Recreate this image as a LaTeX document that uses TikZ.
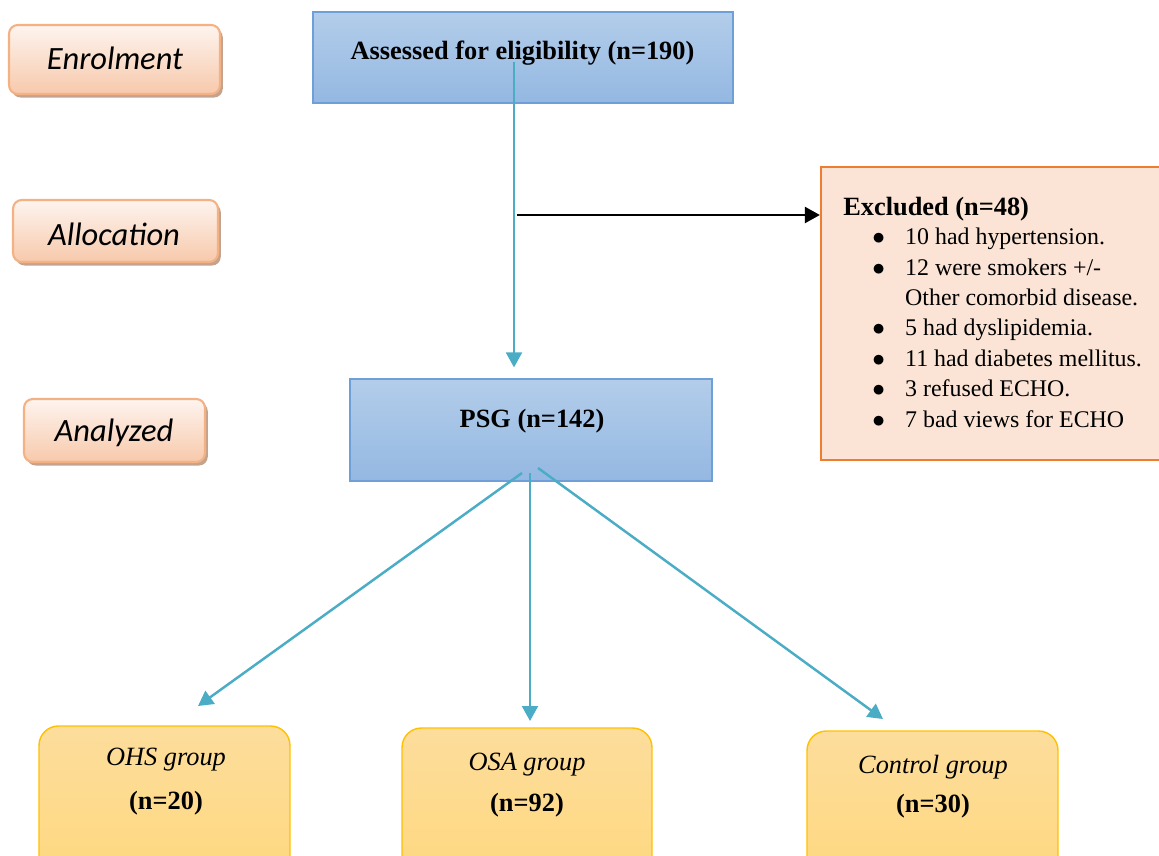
\documentclass[tikz,border=0pt]{standalone}
\usepackage{fontspec}
\setmainfont{Liberation Serif}
\newfontfamily\calibri{Carlito}
\usepackage{xcolor}
\usepackage{tikz}
\usetikzlibrary{arrows.meta,shadows}

\definecolor{peachtop}{HTML}{FEF4EF}
\definecolor{peachbot}{HTML}{F7C9AB}
\definecolor{peachline}{HTML}{F4B183}
\definecolor{shadowtan}{HTML}{C4A38E}
\definecolor{bluetop}{HTML}{B3CDEA}
\definecolor{bluebot}{HTML}{94B8E2}
\definecolor{blueline}{HTML}{6F9FD8}
\definecolor{exclfill}{HTML}{FBE4D5}
\definecolor{exclline}{HTML}{ED7D31}
\definecolor{goldtop}{HTML}{FDDD9C}
\definecolor{goldbot}{HTML}{FED77B}
\definecolor{goldline}{HTML}{FFC000}
\definecolor{arrowblue}{HTML}{4BACC6}

\tikzset{
  stage/.style={rectangle, rounded corners=5pt, draw=peachline, line width=1.2pt,
    top color=peachtop, bottom color=peachbot,
    drop shadow={shadow xshift=1.6pt, shadow yshift=-2pt, fill=shadowtan, opacity=1}},
  stagetxt/.style={font=\calibri\itshape\fontsize{18.5}{22}\selectfont},
  stepbox/.style={rectangle, draw=blueline, line width=0.8pt,
    top color=bluetop, bottom color=bluebot},
  groupbox/.style={rectangle, rounded corners=11pt, draw=goldline, line width=0.8pt,
    top color=goldtop, bottom color=goldbot},
  bold/.style={font=\fontsize{15}{18}\selectfont\bfseries},
  ital/.style={font=\fontsize{15}{18}\selectfont\itshape},
  flow/.style={draw=arrowblue, line width=1.4pt, -{Triangle[length=8.5pt,width=9pt]}},
  exclarrow/.style={draw=black, line width=1.5pt, -{Triangle[length=8.5pt,width=9pt]}}
}

\begin{document}
\begin{tikzpicture}[x=0.02cm, y=-0.02cm]
  \useasboundingbox (0,0) rectangle (1159,855);
  \clip (0,0) rectangle (1159,855);
  % stages on the left
  \node[stage, minimum width=4.22cm, minimum height=1.38cm] (enrol) at (114.5,59.5) {};
  \node[stagetxt] (enroltxt) at (115,58) {Enrolment};
  \node[stage, minimum width=4.1cm, minimum height=1.24cm] (alloc) at (115.5,231) {};
  \node[stagetxt] (alloctxt) at (114,234.5) {Allocation};
  \node[stage, minimum width=3.62cm, minimum height=1.26cm] (anal) at (114.5,430.5) {};
  \node[stagetxt] (analtxt) at (114,433) {Analyzed};
  % main boxes
  \node[stepbox, minimum width=8.4cm, minimum height=1.82cm] (assess) at (523,57.5) {};
  \node[bold] (assesstxt) at (522.5,53) {Assessed for eligibility (n=190)};
  \node[stepbox, minimum width=7.24cm, minimum height=2.04cm] (psg) at (531,430) {};
  \node[bold] (psgtxt) at (532,421) {PSG (n=142)};
  % excluded
  \node[rectangle, draw=exclline, fill=exclfill, line width=1.3pt,
        minimum width=7.08cm, minimum height=5.86cm] (excl) at (998,313.5) {};
  \node[bold, anchor=base west, inner sep=0pt] (exclhead) at (843,215) {Excluded (n=48)};
  \node[anchor=north west, inner sep=0pt, font=\fontsize{13.6}{17.3}\selectfont] (excllist) at (872,223) {%
    \begin{tabular}{@{}l@{\hspace{11.5pt}}l@{}}
      $\bullet$ & 10 had hypertension.\\
      $\bullet$ & 12 were smokers +/-\\
                & Other comorbid disease.\\
      $\bullet$ & 5 had dyslipidemia.\\
      $\bullet$ & 11 had diabetes mellitus.\\
      $\bullet$ & 3 refused ECHO.\\
      $\bullet$ & 7 bad views for ECHO
    \end{tabular}};
  % groups
  \node[groupbox, minimum width=5.02cm, minimum height=3.48cm] (ohs) at (164.5,813) {};
  \node[groupbox, minimum width=5.0cm, minimum height=3.44cm] (osa) at (527,814) {};
  \node[groupbox, minimum width=5.02cm, minimum height=3.38cm] (ctrl) at (932.5,815.5) {};
  \node[ital] (ohsname) at (166,760) {OHS group};
  \node[bold] (ohsn) at (166,803) {(n=20)};
  \node[ital] (osaname) at (527,765) {OSA group};
  \node[bold] (osan) at (527,805) {(n=92)};
  \node[ital] (ctrlname) at (933,767) {Control group};
  \node[bold] (ctrln) at (933,806) {(n=30)};
  % connectors
  \coordinate (stem) at (514,62);
  \coordinate (fork) at (514,215);
  \coordinate (out1) at (522,473);
  \coordinate (out2) at (530,473);
  \coordinate (out3) at (538,468);
  \coordinate (ohsin) at (198,706);
  \coordinate (osain) at (530,721);
  \coordinate (ctrlin) at (883,719);
  \draw[flow, shorten >=6.2pt] (stem) -- (stem |- psg.north);
  \draw[exclarrow, shorten <=1.6pt] (fork) -- (fork -| excl.west);
  \draw[flow] (out1) -- (ohsin);
  \draw[flow] (out2) -- (osain);
  \draw[flow] (out3) -- (ctrlin);
\end{tikzpicture}
\end{document}
